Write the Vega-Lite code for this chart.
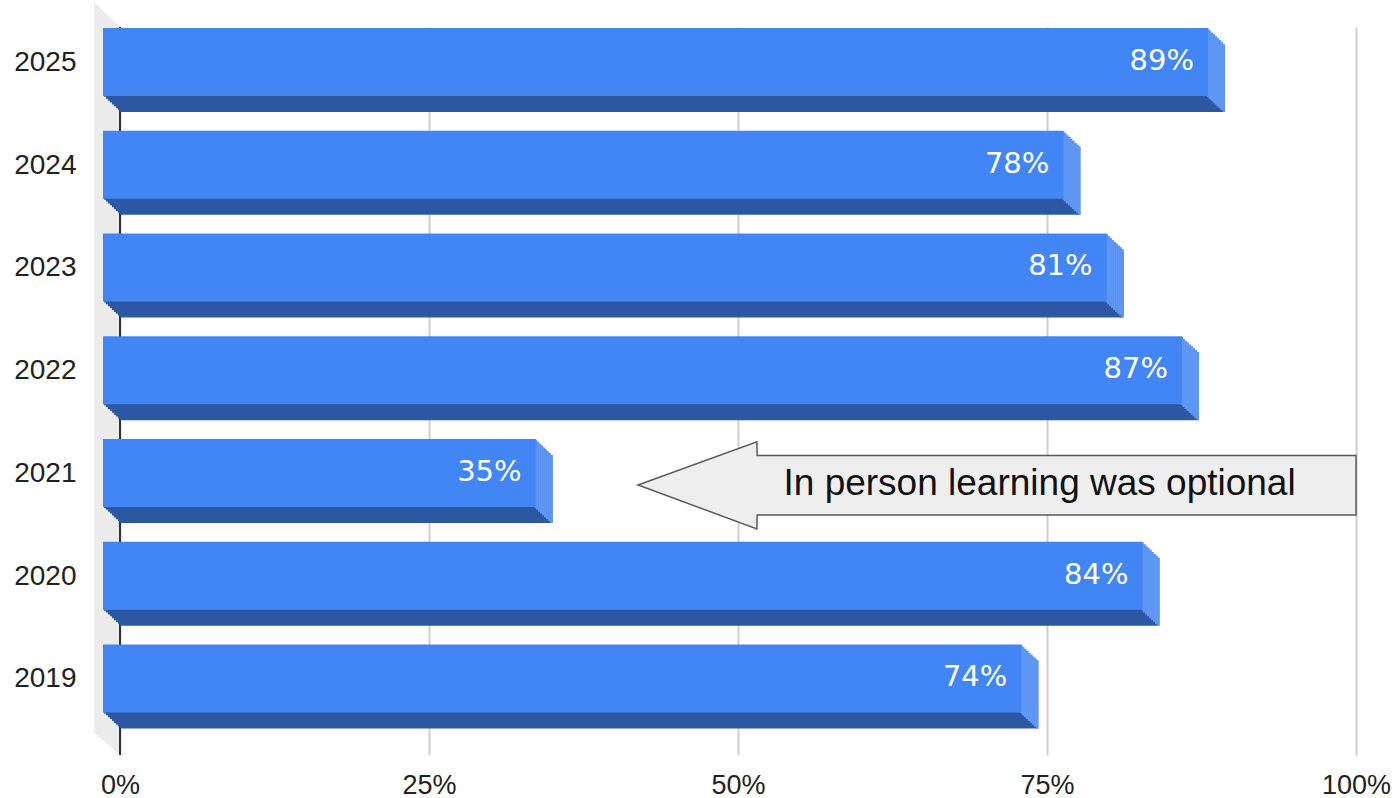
{
  "$schema": "https://vega.github.io/schema/vega-lite/v6.json",
  "width": 1236,
  "height": 728,
  "autosize": {"type": "none"},
  "padding": {"left": 120, "top": 27, "right": 39, "bottom": 43},
  "background": "white",
  "config": {"view": {"stroke": null}},
  "datasets": {
    "bars": [
      {"year": "2025", "v": 0.894},
      {"year": "2024", "v": 0.777},
      {"year": "2023", "v": 0.812},
      {"year": "2022", "v": 0.873},
      {"year": "2021", "v": 0.35},
      {"year": "2020", "v": 0.841},
      {"year": "2019", "v": 0.743}
    ],
    "wall": [
      {"wx": -0.021, "top": 2025.74, "bot": 2018.625},
      {"wx": 0, "top": 2025.496, "bot": 2018.411}
    ],
    "arrow": [
      {"ax": 0.4191, "top": 2021.039, "bot": 2021.039},
      {"ax": 0.5153, "top": 2021.46, "bot": 2020.611},
      {"ax": 0.5155, "top": 2021.326, "bot": 2020.747},
      {"ax": 1.0, "top": 2021.326, "bot": 2020.747}
    ],
    "note": [
      {"nx": 0.744, "ny": 2020.942, "label": "In person learning was optional"}
    ]
  },
  "resolve": {"scale": {"y": "independent"}},
  "layer": [
    {
      "data": {"name": "wall"},
      "layer": [
        {
          "mark": {"type": "area", "orient": "vertical", "color": "#ececec"},
          "encoding": {
            "x": {"field": "wx", "type": "quantitative", "scale": {"domain": [0, 1]},
              "axis": {"title": null, "format": ".0%", "values": [0, 0.25, 0.5, 0.75, 1], "domain": false, "ticks": false, "tickSize": 0, "grid": true, "gridColor": "#cfcfcf", "gridWidth": 2, "labelFontSize": 27, "labelFont": "Liberation Sans", "labelColor": "#222222", "labelPadding": 38, "labelBaseline": "alphabetic", "labelFlush": false, "labelOverlap": false}},
            "y": {"field": "top", "type": "quantitative", "scale": {"domain": [2018.411, 2025.496], "nice": false, "zero": false}, "axis": null},
            "y2": {"field": "bot"}
          }
        },
        {
          "mark": {"type": "rule", "color": "#333333", "strokeWidth": 2},
          "encoding": {
            "x": {"datum": 0, "type": "quantitative", "scale": {"domain": [0, 1]},
              "axis": {"title": null, "format": ".0%", "values": [0, 0.25, 0.5, 0.75, 1], "domain": false, "ticks": false, "tickSize": 0, "grid": true, "gridColor": "#cfcfcf", "gridWidth": 2, "labelFontSize": 27, "labelFont": "Liberation Sans", "labelColor": "#222222", "labelPadding": 38, "labelBaseline": "alphabetic", "labelFlush": false, "labelOverlap": false}}
          }
        }
      ]
    },
    {
      "data": {"name": "bars"},
      "encoding": {
        "y": {
          "field": "year", "type": "ordinal", "sort": "descending",
          "scale": {"paddingInner": 0.338, "paddingOuter": 0.2115, "align": 0.39},
          "axis": {"title": null, "domain": false, "ticks": false, "tickSize": 0, "labelPadding": 44, "labelFontSize": 28, "labelFont": "Liberation Sans", "labelColor": "#222222", "labelBaseline": "alphabetic", "labelOffset": -7}
        },
        "x": {
          "field": "v", "type": "quantitative", "scale": {"domain": [0, 1]},
          "axis": {"title": null, "format": ".0%", "values": [0, 0.25, 0.5, 0.75, 1], "domain": false, "ticks": false, "tickSize": 0, "grid": true, "gridColor": "#cfcfcf", "gridWidth": 2, "labelFontSize": 27, "labelFont": "Liberation Sans", "labelColor": "#222222", "labelPadding": 38, "labelBaseline": "alphabetic", "labelFlush": false, "labelOverlap": false}
        }
      },
      "layer": [
        {"mark": {"type": "bar", "color": "#2c58a3", "xOffset": 0, "x2Offset": 0, "yOffset": 0, "y2Offset": 0}},
        {"mark": {"type": "bar", "color": "#2c58a3", "xOffset": -2, "x2Offset": -2, "yOffset": -1.9, "y2Offset": -1.9}},
        {"mark": {"type": "bar", "color": "#2c58a3", "xOffset": -4, "x2Offset": -4, "yOffset": -3.8, "y2Offset": -3.8}},
        {"mark": {"type": "bar", "color": "#2c58a3", "xOffset": -6, "x2Offset": -6, "yOffset": -5.6, "y2Offset": -5.6}},
        {"mark": {"type": "bar", "color": "#2c58a3", "xOffset": -8, "x2Offset": -8, "yOffset": -7.5, "y2Offset": -7.5}},
        {"mark": {"type": "bar", "color": "#2c58a3", "xOffset": -10, "x2Offset": -10, "yOffset": -9.4, "y2Offset": -9.4}},
        {"mark": {"type": "bar", "color": "#2c58a3", "xOffset": -12, "x2Offset": -12, "yOffset": -11.3, "y2Offset": -11.3}},
        {"mark": {"type": "bar", "color": "#2c58a3", "xOffset": -14, "x2Offset": -14, "yOffset": -13.2, "y2Offset": -13.2}},
        {"mark": {"type": "bar", "color": "#2c58a3", "xOffset": -16, "x2Offset": -16, "yOffset": -15.1, "y2Offset": -15.1}},
        {"mark": {"type": "bar", "color": "#5f97f5", "xOffset": -2.5, "x2Offset": 0, "yOffset": 0, "y2Offset": 0}, "encoding": {"x2": {"field": "v"}}},
        {"mark": {"type": "bar", "color": "#5f97f5", "xOffset": -4.5, "x2Offset": -2, "yOffset": -1.9, "y2Offset": -1.9}, "encoding": {"x2": {"field": "v"}}},
        {"mark": {"type": "bar", "color": "#5f97f5", "xOffset": -6.5, "x2Offset": -4, "yOffset": -3.8, "y2Offset": -3.8}, "encoding": {"x2": {"field": "v"}}},
        {"mark": {"type": "bar", "color": "#5f97f5", "xOffset": -8.5, "x2Offset": -6, "yOffset": -5.6, "y2Offset": -5.6}, "encoding": {"x2": {"field": "v"}}},
        {"mark": {"type": "bar", "color": "#5f97f5", "xOffset": -10.5, "x2Offset": -8, "yOffset": -7.5, "y2Offset": -7.5}, "encoding": {"x2": {"field": "v"}}},
        {"mark": {"type": "bar", "color": "#5f97f5", "xOffset": -12.5, "x2Offset": -10, "yOffset": -9.4, "y2Offset": -9.4}, "encoding": {"x2": {"field": "v"}}},
        {"mark": {"type": "bar", "color": "#5f97f5", "xOffset": -14.5, "x2Offset": -12, "yOffset": -11.3, "y2Offset": -11.3}, "encoding": {"x2": {"field": "v"}}},
        {"mark": {"type": "bar", "color": "#5f97f5", "xOffset": -16.5, "x2Offset": -14, "yOffset": -13.2, "y2Offset": -13.2}, "encoding": {"x2": {"field": "v"}}},
        {"mark": {"type": "bar", "color": "#5f97f5", "xOffset": -18, "x2Offset": -16, "yOffset": -15.1, "y2Offset": -15.1}, "encoding": {"x2": {"field": "v"}}},
        {"mark": {"type": "bar", "color": "#4285f4", "xOffset": -17, "x2Offset": -17, "yOffset": -16, "y2Offset": -16}},
        {
          "mark": {"type": "text", "align": "right", "baseline": "alphabetic", "dx": -31, "dy": -8, "font": "DejaVu Sans", "fontSize": 29, "color": "#ffffff"},
          "encoding": {"text": {"field": "v", "type": "quantitative", "format": ".0%"}}
        }
      ]
    },
    {
      "layer": [
        {
          "data": {"name": "arrow"},
          "mark": {"type": "area", "orient": "vertical", "fill": "#eeeeee", "stroke": "#5a5a5a", "strokeWidth": 1.5},
          "encoding": {
            "x": {"field": "ax", "type": "quantitative", "scale": {"domain": [0, 1]},
              "axis": {"title": null, "format": ".0%", "values": [0, 0.25, 0.5, 0.75, 1], "domain": false, "ticks": false, "tickSize": 0, "grid": true, "gridColor": "#cfcfcf", "gridWidth": 2, "labelFontSize": 27, "labelFont": "Liberation Sans", "labelColor": "#222222", "labelPadding": 38, "labelBaseline": "alphabetic", "labelFlush": false, "labelOverlap": false}},
            "y": {"field": "top", "type": "quantitative", "scale": {"domain": [2018.411, 2025.496], "nice": false, "zero": false}, "axis": null},
            "y2": {"field": "bot"}
          }
        },
        {
          "data": {"name": "note"},
          "mark": {"type": "text", "font": "Liberation Sans", "fontSize": 37, "align": "center", "baseline": "alphabetic", "color": "#111111"},
          "encoding": {
            "x": {"field": "nx", "type": "quantitative", "scale": {"domain": [0, 1]},
              "axis": {"title": null, "format": ".0%", "values": [0, 0.25, 0.5, 0.75, 1], "domain": false, "ticks": false, "tickSize": 0, "grid": true, "gridColor": "#cfcfcf", "gridWidth": 2, "labelFontSize": 27, "labelFont": "Liberation Sans", "labelColor": "#222222", "labelPadding": 38, "labelBaseline": "alphabetic", "labelFlush": false, "labelOverlap": false}},
            "y": {"field": "ny", "type": "quantitative", "scale": {"domain": [2018.411, 2025.496], "nice": false, "zero": false}, "axis": null},
            "text": {"field": "label"}
          }
        }
      ]
    }
  ]
}
